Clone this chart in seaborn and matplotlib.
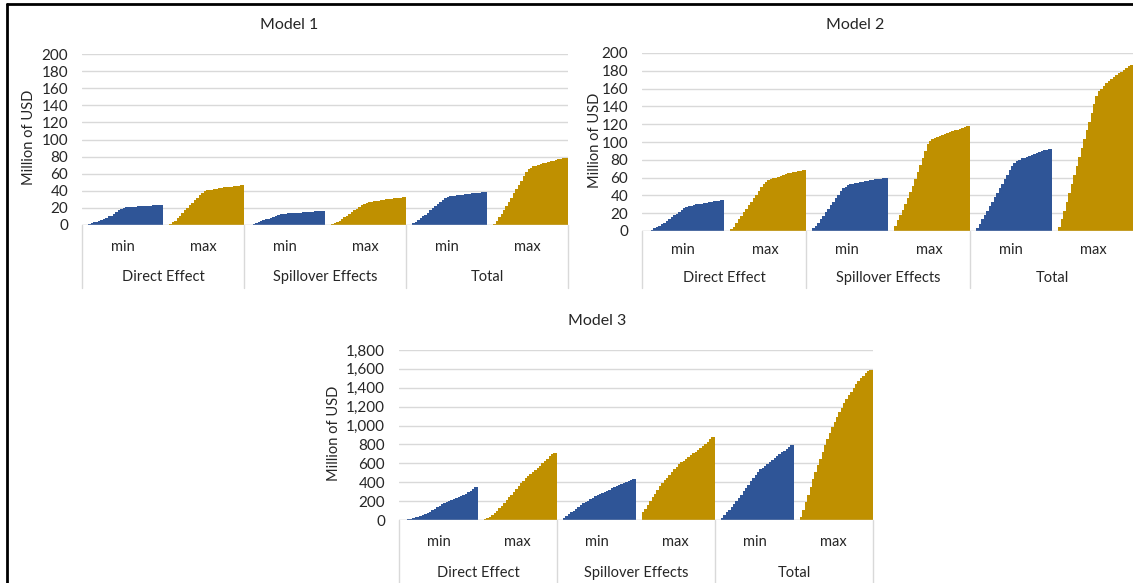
import matplotlib
matplotlib.use("Agg")
import matplotlib.pyplot as plt
from matplotlib.lines import Line2D
from matplotlib.ticker import FuncFormatter
import pandas as pd
import seaborn as sns

# ---- data (million USD, sorted bars per group) ----
categories = ["Direct Effect", "Spillover Effects", "Total"]
kinds = ["min", "max"]

m1_direct_min = [1, 2, 3, 4, 5, 6, 7, 8, 10, 11, 13, 15, 17, 19, 20, 20.5, 21, 21, 21.3, 21.6,
                 21.8, 22, 22.2, 22.4, 22.6, 22.8, 23, 23, 23.2, 23.4]
m1_direct_max = [1, 3, 5, 8, 11, 14, 17, 20, 23, 26, 29, 32, 35, 38, 39.5, 40.5, 41, 41.5, 42, 42.5,
                 43, 43.5, 44, 44.3, 44.6, 45, 45.3, 45.6, 46, 46.3]
m1_spill_min = [0.5, 1.5, 2.5, 3.5, 4.5, 5.5, 6.5, 7.5, 8.5, 9.5, 10.5, 11.5, 12.5, 13, 13.3, 13.6,
                13.8, 14, 14.2, 14.4, 14.6, 14.8, 15, 15.2, 15.4, 15.6, 15.8, 16, 16.2, 16.4]
m1_spill_max = [1, 2, 3.5, 5, 7, 9, 11, 13, 15, 17, 19, 21, 23, 25, 26, 26.5, 27, 27.5, 28, 28.5,
                29, 29.5, 30, 30.3, 30.6, 31, 31.3, 31.6, 32, 32.3]
m1_total_min = [2, 4, 6, 8, 10, 12, 14.5, 17, 19.5, 22, 24.5, 27, 29.5, 32, 33, 33.5, 34, 34.5, 35,
                35.3, 35.6, 36, 36.3, 36.6, 37, 37.3, 37.6, 38, 38.3, 38.6]
m1_total_max = [1, 5, 9, 13, 17, 22, 27, 32, 37, 42, 47, 52, 57, 62, 65, 67, 68.5, 69.5, 70.5, 71.5,
                72.3, 73, 73.8, 74.5, 75.2, 76, 76.7, 77.3, 78, 78.5]

m2_direct_min = [0.5, 1.5, 3, 4.5, 6, 7.5, 9.5, 11.5, 13.5, 15.5, 17.5, 19.5, 21.5, 23.5, 25.5, 27,
                 28, 28.6, 29.2, 29.8, 30.3, 30.8, 31.3, 31.8, 32.3, 32.8, 33.2, 33.6, 34, 34.4]
m2_direct_max = [2, 5, 9, 13, 17, 21, 25, 29, 33, 37, 41, 45, 49, 53, 55, 57, 58, 59, 60, 61, 62, 63,
                 64, 64.7, 65.4, 66, 66.6, 67.2, 67.8, 68.4]
m2_spill_min = [3, 6, 9.5, 13, 17, 21, 25, 29, 33, 37, 41, 45, 48.5, 50, 51.5, 52.5, 53.2, 53.8,
                54.4, 55, 55.5, 56, 56.5, 57, 57.5, 58, 58.4, 58.8, 59.2, 59.6]
m2_spill_max = [6, 12, 18, 24, 30, 37, 44, 51, 58, 66, 74, 82, 90, 98, 101, 103, 104.5, 106, 107,
                108, 109, 110, 111, 112, 113, 114, 115, 116, 117, 117.5]
m2_total_min = [3, 8, 13, 18, 23, 28, 33, 38, 43, 48, 53, 58, 63, 68, 73, 76, 78.5, 80, 81.5, 82.5,
                83.5, 84.5, 85.5, 86.5, 87.5, 88.5, 89.5, 90.5, 91.5, 92.5]
m2_total_max = [4, 13, 23, 33, 43, 53, 63, 73, 83, 93, 103, 113, 123, 133, 143, 152, 157, 160, 163,
                166, 168.5, 171, 173, 175, 177, 179, 181, 183, 185, 186]

m3_direct_min = [5, 10, 15, 20, 27, 34, 42, 50, 60, 75, 90, 105, 120, 135, 150, 165, 180, 192, 202,
                 212, 222, 232, 243, 254, 266, 280, 295, 310, 328, 350]
m3_direct_max = [10, 20, 35, 55, 75, 100, 125, 150, 180, 210, 240, 270, 300, 330, 360, 390, 415,
                 440, 465, 485, 505, 525, 550, 575, 600, 625, 650, 675, 695, 710]
m3_spill_min = [20, 40, 60, 80, 100, 120, 140, 158, 175, 190, 205, 220, 235, 250, 262, 274, 286,
                298, 310, 322, 334, 346, 357, 368, 380, 392, 404, 416, 427, 435]
m3_spill_max = [85, 120, 160, 200, 240, 280, 320, 360, 390, 420, 450, 480, 510, 540, 565, 590, 610,
                630, 650, 670, 690, 706, 725, 745, 765, 785, 805, 830, 855, 875]
m3_total_min = [20, 50, 80, 110, 140, 170, 200, 235, 270, 305, 340, 375, 410, 445, 480, 510, 535,
                555, 575, 595, 615, 635, 655, 675, 695, 715, 735, 755, 775, 795]
m3_total_max = [30, 110, 190, 270, 350, 430, 510, 580, 650, 720, 790, 855, 920, 985, 1040, 1090,
                1140, 1190, 1240, 1280, 1320, 1360, 1400, 1440, 1470, 1500, 1530, 1555, 1575, 1590]

model1 = [[m1_direct_min, m1_direct_max], [m1_spill_min, m1_spill_max], [m1_total_min, m1_total_max]]
model2 = [[m2_direct_min, m2_direct_max], [m2_spill_min, m2_spill_max], [m2_total_min, m2_total_max]]
model3 = [[m3_direct_min, m3_direct_max], [m3_spill_min, m3_spill_max], [m3_total_min, m3_total_max]]

BLUE = "#2F5597"
GOLD = "#BF9000"
GRID = "#D9D9D9"
TEXT = "#262626"
HALF = 33  # slots per min/max block

W, H = 1133, 583
sns.set_style("white")
plt.rcParams["font.family"] = ["Lato", "DejaVu Sans"]

fig = plt.figure(figsize=(W / 100, H / 100), dpi=100)


def to_frame(model):
    rows = []
    for c, pair in enumerate(model):
        for k, vals in enumerate(pair):
            for i, v in enumerate(vals):
                rows.append({"pos": c * 2 * HALF + k * HALF + 3 + i, "value": v, "kind": kinds[k]})
    return pd.DataFrame(rows)


def draw_model(model, title, box, ymax, ystep, title_xy, ylab_x, sub_y, cat_y, sep_y, comma=False):
    left, right, top, bottom = box
    ax = fig.add_axes([left / W, 1 - bottom / H, (right - left) / W, (bottom - top) / H])
    df = to_frame(model)
    sns.barplot(data=df, x="pos", y="value", hue="kind", palette={"min": BLUE, "max": GOLD},
                native_scale=True, width=1, dodge=False, errorbar=None, legend=False,
                saturation=1, ax=ax)
    for p in ax.patches:
        p.set_edgecolor(p.get_facecolor())
        p.set_linewidth(0.6)
        p.set_antialiased(False)
    ax.set_xlim(0, 6 * HALF)
    ax.set_ylim(0, ymax)
    ax.set_yticks(range(0, ymax + 1, ystep))
    if comma:
        ax.yaxis.set_major_formatter(FuncFormatter(lambda v, _: f"{int(v):,}"))
    ax.set_xticks([])
    ax.set_xlabel("")
    ax.set_ylabel("")
    ax.yaxis.grid(True, color=GRID, linewidth=1)
    ax.set_axisbelow(True)
    for s in ax.spines.values():
        s.set_visible(False)
    ax.tick_params(axis="y", length=0, pad=10, labelsize=11, labelcolor=TEXT)

    h = bottom - top
    fy = lambda ypx: (bottom - ypx) / h
    trans = ax.get_xaxis_transform()
    ax.axhline(0, color=GRID, linewidth=1)
    for c in range(4):
        ax.plot([c * 2 * HALF] * 2, [0, fy(sep_y)], color=GRID, linewidth=1,
                transform=trans, clip_on=False)
    for c, name in enumerate(categories):
        for k, kind in enumerate(kinds):
            ax.text(c * 2 * HALF + k * HALF + HALF / 2, fy(sub_y), kind, transform=trans,
                    ha="center", va="center", fontsize=10.5, color=TEXT)
        ax.text(c * 2 * HALF + HALF, fy(cat_y), name, transform=trans,
                ha="center", va="center", fontsize=10.5, color=TEXT)

    fig.text(ylab_x / W, 1 - ((top + bottom) / 2 - 2) / H, "Million of USD", rotation=90,
             ha="center", va="center", fontsize=10.5, color=TEXT)
    fig.text(title_xy[0] / W, 1 - title_xy[1] / H, title, ha="center", va="center",
             fontsize=11.5, color=TEXT)
    return ax


draw_model(model1, "Model 1", (82, 568, 54, 225), 200, 20, (289, 25), 29, 247, 277, 288)
draw_model(model2, "Model 2", (642, 1134, 53, 231), 200, 20, (855, 25), 595, 250, 278, 288)
draw_model(model3, "Model 3", (399, 873, 350, 520), 1800, 200, (597, 321), 334, 542, 573, 590,
           comma=True)

# frame around the picture (left and top edges visible)
fig.add_artist(Line2D([7 / W, 7 / W], [0, 1 - 4 / H], color="black", linewidth=2))
fig.add_artist(Line2D([7 / W, 1], [1 - 4 / H, 1 - 4 / H], color="black", linewidth=2))

fig.savefig("out.png", dpi=100)
